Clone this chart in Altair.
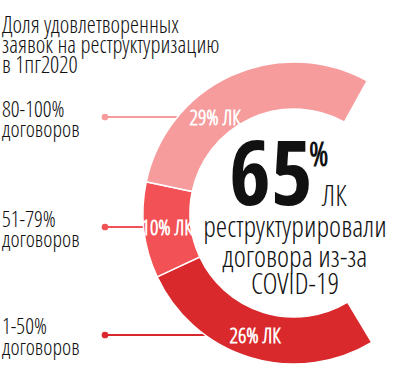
import altair as alt
import pandas as pd

# ---- data ----
categories = ["1-50%", "51-79%", "80-100%"]
shares = [26, 10, 29]
seg_labels = ["26% ЛК", "10% ЛК", "29% ЛК"]
stack_order = [0, 1, 2]
colors = ["#D9292C", "#F25156", "#F69C9D"]

title_lines = ["Доля удовлетворенных", "заявок на реструктуризацию", "в 1пг2020"]
left_labels = ["80-100%", "договоров", "51-79%", "договоров", "1-50%", "договоров"]
big_number = "65"
center_lines = ["реструктурировали", "договора из-за", "COVID-19"]

# ---- layout (positions / sizes) ----
FONT = "Open Sans Condensed Light, Open Sans, sans-serif"
FONT_BOLD = "Open Sans Condensed, Open Sans, sans-serif"
CX, CY = 294, 213
R_OUT, R_IN = 151, 104
THETA_START, THETA_END = 2.6005, 6.7893

df_arc = pd.DataFrame({"cat": categories, "share": shares, "ord": stack_order})

arc = alt.Chart(df_arc).mark_arc(
    outerRadius=R_OUT, innerRadius=R_IN, stroke="white", strokeWidth=1.5
).encode(
    theta=alt.Theta("share:Q", stack=True,
                    scale=alt.Scale(domain=[0, sum(shares)], range=[THETA_START, THETA_END])),
    order=alt.Order("ord:Q"),
    color=alt.Color("cat:N", scale=alt.Scale(domain=categories, range=colors), legend=None),
    x=alt.value(CX),
    y=alt.value(CY),
)

# leader lines (top, middle, bottom) -> colors for 80-100, 51-79, 1-50
lines_df = pd.DataFrame({
    "x": [105, 105, 105], "x2": [185, 150, 210], "y": [117, 227, 335],
    "c": [colors[2], colors[1], colors[0]],
})
leaders = alt.Chart(lines_df).mark_rule(strokeWidth=2).encode(
    x=alt.X("x:Q", scale=None), x2="x2:Q", y=alt.Y("y:Q", scale=None),
    color=alt.Color("c:N", scale=None),
)
dots = alt.Chart(lines_df).mark_point(filled=True, size=45, opacity=1).encode(
    x=alt.X("x:Q", scale=None), y=alt.Y("y:Q", scale=None),
    color=alt.Color("c:N", scale=None),
)

seg_df = pd.DataFrame({"t": seg_labels, "x": [255, 167, 215], "y": [343, 235, 125]})
seg_text = alt.Chart(seg_df).mark_text(
    font=FONT, fontSize=21, fontWeight="bold", color="white", align="center", baseline="alphabetic"
).encode(x=alt.X("x:Q", scale=None), y=alt.Y("y:Q", scale=None), text="t:N")

title_df = pd.DataFrame({"t": title_lines, "y": [33, 53, 73]})
title_text = alt.Chart(title_df).mark_text(
    font=FONT, fontSize=23, color="#111111", align="left", baseline="alphabetic"
).encode(x=alt.value(2), y=alt.Y("y:Q", scale=None), text="t:N")

left_df = pd.DataFrame({"t": left_labels, "y": [117, 137, 227, 247, 334, 355]})
left_text = alt.Chart(left_df).mark_text(
    font=FONT, fontSize=22, color="#111111", align="left", baseline="alphabetic"
).encode(x=alt.value(2), y=alt.Y("y:Q", scale=None), text="t:N")

big = alt.Chart(pd.DataFrame({"t": [big_number]})).mark_text(
    font=FONT_BOLD, fontSize=90, color="#111111", align="center", baseline="alphabetic"
).encode(x=alt.value(271), y=alt.value(205), text="t:N")

pct = alt.Chart(pd.DataFrame({"t": ["%"]})).mark_text(
    font=FONT, fontSize=33, fontWeight="bold", color="#111111", align="left", baseline="alphabetic"
).encode(x=alt.value(309), y=alt.value(166), text="t:N")

lk = alt.Chart(pd.DataFrame({"t": ["ЛК"]})).mark_text(
    font=FONT, fontSize=29, color="#111111", align="left", baseline="alphabetic"
).encode(x=alt.value(322), y=alt.value(206), text="t:N")

center_df = pd.DataFrame({"t": center_lines, "y": [237, 267, 294]})
center_text = alt.Chart(center_df).mark_text(
    font=FONT, fontSize=29, color="#111111", align="center", baseline="alphabetic"
).encode(x=alt.value(295), y=alt.Y("y:Q", scale=None), text="t:N")

chart = alt.layer(
    leaders, dots, arc, seg_text, title_text, left_text, big, pct, lk, center_text
).properties(
    width=400, height=375, padding=0, autosize="none", background="white"
).configure_view(stroke=None)

chart.save("out.html", embed_options={"renderer": "svg", "actions": False})
